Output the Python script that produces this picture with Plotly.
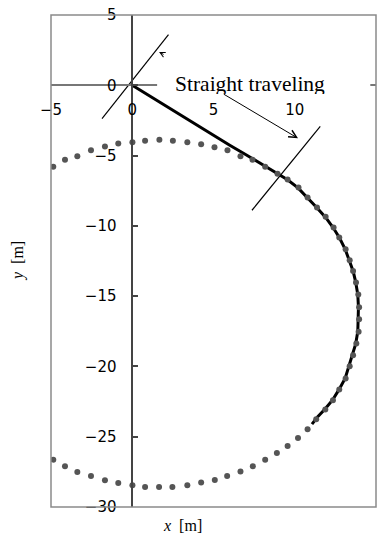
import plotly.graph_objects as go

# Simulated turning circle (gray dots)
dot_x = [-4.86, -4.14, -3.38, -2.54, -1.68, -0.86, 0.01, 0.79, 1.67, 2.50, 3.39, 4.24, 5.06, 5.86,
         6.66, 7.40, 8.18, 8.94, 9.56, 10.23, 10.79, 11.37, 11.90, 12.39, 12.74, 13.13, 13.38, 13.59,
         13.77, 13.91, 13.96, 13.96, 13.93, 13.79, 13.59, 13.38, 13.13, 12.74, 12.35, 11.88, 11.32,
         10.79, 10.20, 9.56, 8.90, 8.18, 7.42, 6.66, 5.84, 5.08, 4.24, 3.39, 2.47, 1.65, 0.79, 0.01,
         -0.86, -1.68, -2.54, -3.38, -4.14, -4.86]
dot_y = [-5.80, -5.30, -5.04, -4.63, -4.35, -4.14, -4.06, -3.95, -3.88, -3.95, -4.06, -4.19, -4.40, -4.63,
         -5.04, -5.30, -5.80, -6.30, -6.70, -7.27, -7.98, -8.69, -9.36, -10.11, -10.83, -11.66, -12.44, -13.22,
         -14.03, -14.88, -15.79, -16.64, -17.54, -18.37, -19.20, -19.99, -20.86, -21.64, -22.41, -23.07, -23.76,
         -24.47, -25.09, -25.66, -26.16, -26.63, -27.10, -27.48, -27.79, -28.08, -28.26, -28.46, -28.58, -28.58, -28.58, -28.46,
         -28.29, -28.10, -27.79, -27.51, -27.10, -26.63]

# Measured trajectory (black line)
traj_x = [0.0, 1.0, 2.0, 3.0, 4.0, 5.0, 6.0, 7.0, 8.0, 8.9, 9.56, 10.2, 10.8, 11.35, 11.9, 12.35,
          12.75, 13.1, 13.35, 13.6, 13.75, 13.88, 13.92, 13.92, 13.88, 13.75, 13.55, 13.35, 13.1,
          12.72, 12.32, 11.85, 11.4, 11.06]
traj_y = [0.0, -0.72, -1.44, -2.16, -2.88, -3.58, -4.26, -4.94, -5.62, -6.27, -6.72, -7.3, -8.0, -8.7,
          -9.4, -10.1, -10.85, -11.65, -12.45, -13.25, -14.0, -14.9, -15.8, -16.6, -17.5, -18.4,
          -19.2, -20.0, -20.85, -21.65, -22.4, -23.05, -23.6, -24.1]

# Section marker lines (start / end of straight traveling)
line1_x = [-1.86, 2.23]
line1_y = [-2.37, 3.6]
line2_x = [7.37, 11.57]
line2_y = [-8.89, -2.92]

x_ticks = [-5, 0, 5, 10, 15]
x_ticktext = ["−5", "0", "5", "10", "15"]
y_ticks = [5, 0, -5, -10, -15, -20, -25, -30]
y_ticktext = ["5", "0", "−5", "−10", "−15", "−20", "−25", "−30"]

tick_font = dict(family="DejaVu Sans, sans-serif", size=15, color="black")
serif = "Liberation Serif, Times New Roman, serif"

fig = go.Figure()
fig.add_trace(go.Scatter(x=line1_x, y=line1_y, mode="lines",
                         line=dict(color="black", width=1.2), showlegend=False))
fig.add_trace(go.Scatter(x=line2_x, y=line2_y, mode="lines",
                         line=dict(color="black", width=1.2), showlegend=False))
fig.add_trace(go.Scatter(x=traj_x, y=traj_y, mode="lines",
                         line=dict(color="black", width=3), showlegend=False))
fig.add_trace(go.Scatter(x=dot_x, y=dot_y, mode="markers",
                         marker=dict(color="#555555", size=6), showlegend=False))

# frame
fig.add_shape(type="rect", xref="x domain", yref="y domain", x0=0, x1=1, y0=0, y1=1,
              line=dict(color="#8a8a8a", width=1.5), layer="above")
# white box behind label (covers axis line)
fig.add_shape(type="rect", xref="x", yref="y", x0=1.53, x1=14.65, y0=-0.48, y1=0.85,
              fillcolor="white", line=dict(width=0), layer="above")

fig.add_annotation(x=2.51, y=1.12, xref="x", yref="y", xanchor="left", yanchor="top",
                   text="Straight traveling", showarrow=False, width=170, height=22,
                   align="left", valign="top",
                   font=dict(family=serif, size=21.5, color="black"))
# arrows
fig.add_annotation(x=10.2, y=-3.77, ax=5.54, ay=-0.57, axref="x", ayref="y", xref="x", yref="y",
                   text="", showarrow=True, arrowhead=5, arrowsize=1.5, arrowwidth=1, arrowcolor="black")
fig.add_annotation(x=1.65, y=2.36, ax=6, ay=3, xref="x", yref="y",
                   text="", showarrow=True, arrowhead=5, arrowsize=1, arrowwidth=1, arrowcolor="black")

# axis titles
fig.add_annotation(x=3.1, y=-0.037, xref="x", yref="paper", text="<i>x</i>  [m]", showarrow=False,
                   xanchor="center", yanchor="middle", font=dict(family=serif, size=16, color="black"))
fig.add_annotation(x=-0.1015, y=0.5, xref="paper", yref="paper", text="<i>y</i>  [m]", showarrow=False,
                   xanchor="center", yanchor="middle",
                   textangle=-90, font=dict(family=serif, size=16, color="black"))

fig.update_layout(
    width=384, height=536,
    margin=dict(l=51, r=8, t=15, b=29, autoexpand=False),
    paper_bgcolor="white", plot_bgcolor="white",
    xaxis=dict(range=[-5, 15], anchor="free", position=30 / 35, showline=True, automargin=False,
               linecolor="#777777", linewidth=1.5, ticks="", tickvals=x_ticks, ticktext=x_ticktext,
               tickfont=tick_font, ticklabelstandoff=11, showgrid=False, zeroline=False),
    yaxis=dict(range=[-30, 5], anchor="free", position=0.25, showline=True, automargin=False,
               linecolor="#444444", linewidth=1.5, ticks="inside", ticklen=5, tickcolor="#444444",
               tickwidth=1.5, tickvals=y_ticks, ticktext=y_ticktext, tickfont=tick_font,
               ticklabelstandoff=12, showgrid=False, zeroline=False),
)

fig.write_html("out.html")
